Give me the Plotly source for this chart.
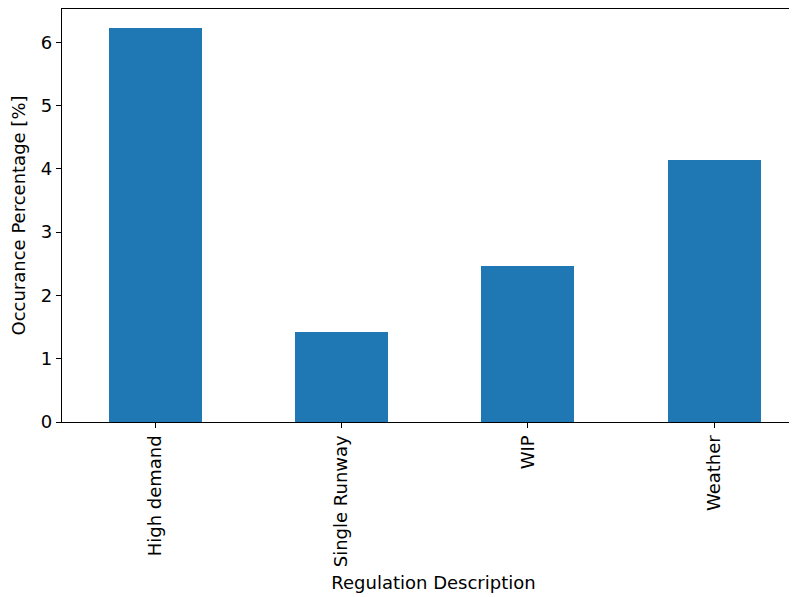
import plotly.graph_objects as go

categories = ["High demand", "Single Runway", "WIP", "Weather"]
values = [6.22, 1.42, 2.46, 4.14]
y_ticks = [0, 1, 2, 3, 4, 5, 6]

FONT = "DejaVu Sans"
FS = 18
fig = go.Figure(
    go.Bar(
        x=categories,
        y=values,
        width=0.5,
        marker=dict(color="#1f77b4", line=dict(width=0)),
    )
)
fig.update_layout(
    width=797,
    height=589,
    margin=dict(l=54, r=0, t=1, b=175, autoexpand=False),
    plot_bgcolor="white",
    paper_bgcolor="white",
    showlegend=False,
    font=dict(family=FONT, size=FS, color="black"),
    bargap=0,
)
fig.update_xaxes(
    type="category",
    range=[-0.5, 3.488],
    showline=True,
    linecolor="black",
    linewidth=1.2,
    mirror=True,
    ticks="outside",
    ticklen=5,
    tickcolor="black",
    tickangle=-90,
    showgrid=False,
    automargin=False,
    tickfont=dict(family=FONT, size=FS),
    title=dict(text="Regulation Description", font=dict(family=FONT, size=FS), standoff=10),
)
fig.update_yaxes(
    range=[0, 6.527],
    tickvals=y_ticks,
    showline=True,
    linecolor="black",
    linewidth=1.2,
    mirror=False,
    ticks="outside",
    ticklen=5,
    tickcolor="black",
    showgrid=False,
    zeroline=False,
    automargin=False,
    tickfont=dict(family=FONT, size=FS),
    title=dict(text="Occurance Percentage [%]", font=dict(family=FONT, size=FS), standoff=10),
)
fig.write_html("out.html")
